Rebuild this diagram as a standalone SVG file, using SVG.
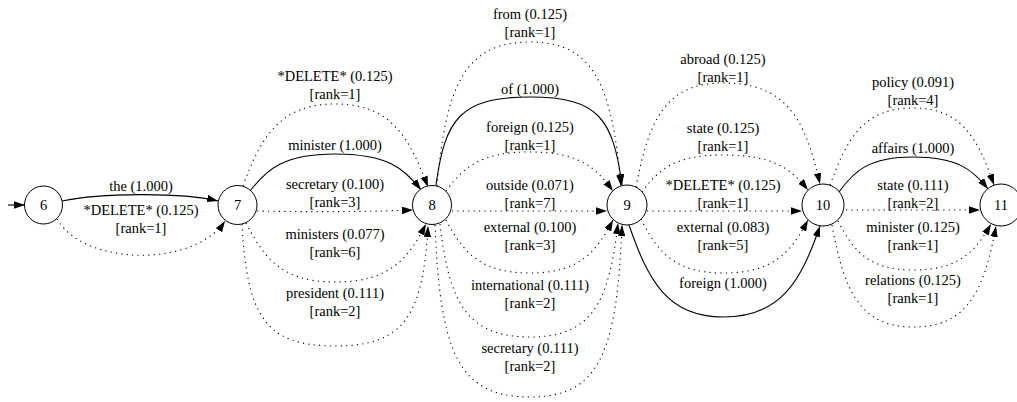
<svg xmlns="http://www.w3.org/2000/svg" width="1017" height="402" viewBox="0 0 1017 402">
<defs>
<marker id="ah" markerUnits="userSpaceOnUse" markerWidth="12" markerHeight="8" refX="11" refY="3.75" orient="auto">
<path d="M0,0 L11,3.75 L0,7.5 z" fill="#000"/>
</marker>
<style>
.n circle{fill:#fff;stroke:#000;stroke-width:1}
text{font-family:'Liberation Serif','Times New Roman',serif;font-size:14.5px;fill:#000;text-anchor:middle}
.s{fill:none;stroke:#000;stroke-width:1.1;marker-end:url(#ah)}
.d{fill:none;stroke:#000;stroke-width:1.1;stroke-dasharray:1.2 4.2;marker-end:url(#ah)}
</style>
</defs>
<rect width="1017" height="402" fill="#fff"/>
<g id="connectors">
<g id="e_init"><path class="s" d="M8,205 L25,205"/></g>
<g id="e6_7a"><path class="s" d="M62,201 C100,193 180,192 218,201"/><text x="141" y="191">the (1.000)</text></g>
<g id="e6_7b"><path class="d" d="M57,219 C85,267 195,267 225,221"/><text><tspan x="141" y="215">*DELETE* (0.125)</tspan><tspan x="141" y="233">[rank=1]</tspan></text></g>
<g id="e7_8a"><path class="d" d="M243,186 C261,137 280,104 335,104 C391,104 409,137 428,187"/><text><tspan x="335" y="81">*DELETE* (0.125)</tspan><tspan x="335" y="99">[rank=1]</tspan></text></g>
<g id="e7_8b"><path class="s" d="M250,191 C267,169 284,154 335,154 C387,154 404,168 421,190"/><text x="335" y="150">minister (1.000)</text></g>
<g id="e7_8c"><path class="d" d="M257,211 C310,212 360,212 413,210"/><text><tspan x="335" y="189">secretary (0.100)</tspan><tspan x="335" y="207">[rank=3]</tspan></text></g>
<g id="e7_8d"><path class="d" d="M246,223 C264,258 282,282 335,282 C390,282 408,259 426,224"/><text><tspan x="335" y="239">ministers (0.077)</tspan><tspan x="335" y="257">[rank=6]</tspan></text></g>
<g id="e7_8e"><path class="d" d="M242,224 C247,316 265,346 335,346 C404,346 423,316 428,226"/><text><tspan x="335" y="298">president (0.111)</tspan><tspan x="335" y="316">[rank=2]</tspan></text></g>
<g id="e8_9a"><path class="d" d="M437,186 C446,85 465,42 530,42 C594,42 612,85 621,186"/><text><tspan x="530" y="19">from (0.125)</tspan><tspan x="530" y="37">[rank=1]</tspan></text></g>
<g id="e8_9b"><path class="s" d="M436,185 C445,119 460,97 530,97 C599,97 613,119 622,185"/><text x="530" y="94">of (1.000)</text></g>
<g id="e8_9c"><path class="d" d="M446,191 C463,168 480,152 530,152 C580,152 596,168 613,191"/><text><tspan x="530" y="132">foreign (0.125)</tspan><tspan x="530" y="150">[rank=1]</tspan></text></g>
<g id="e8_9d"><path class="d" d="M452,211 L607,211"/><text><tspan x="530" y="190">outside (0.071)</tspan><tspan x="530" y="208">[rank=7]</tspan></text></g>
<g id="e8_9e"><path class="d" d="M446,220 C463,252 480,273 530,273 C580,273 596,252 613,220"/><text><tspan x="530" y="232">external (0.100)</tspan><tspan x="530" y="250">[rank=3]</tspan></text></g>
<g id="e8_9f"><path class="d" d="M440,224 C449,303 467,337 530,337 C592,337 609,303 618,223"/><text><tspan x="530" y="290">international (0.111)</tspan><tspan x="530" y="308">[rank=2]</tspan></text></g>
<g id="e8_9g"><path class="d" d="M435,225 C440,354 459,397 530,397 C599,397 617,354 622,225"/><text><tspan x="530" y="353">secretary (0.111)</tspan><tspan x="530" y="371">[rank=2]</tspan></text></g>
<g id="e9_10a"><path class="d" d="M636,187 C649,119 666,83 723,83 C786,83 805,118 820,184"/><text><tspan x="723" y="64">abroad (0.125)</tspan><tspan x="723" y="82">[rank=1]</tspan></text></g>
<g id="e9_10b"><path class="d" d="M642,192 C658,170 674,155 723,155 C774,155 791,169 808,190"/><text><tspan x="723" y="133">state (0.125)</tspan><tspan x="723" y="151">[rank=1]</tspan></text></g>
<g id="e9_10c"><path class="d" d="M647,211 L802,211"/><text><tspan x="723" y="190">*DELETE* (0.125)</tspan><tspan x="723" y="208">[rank=1]</tspan></text></g>
<g id="e9_10d"><path class="d" d="M641,219 C657,251 674,273 723,273 C774,273 791,252 808,220"/><text><tspan x="723" y="232">external (0.083)</tspan><tspan x="723" y="250">[rank=5]</tspan></text></g>
<g id="e9_10e"><path class="s" d="M629,225 C648,280 667,317 723,317 C781,317 801,281 820,226"/><text x="723" y="288">foreign (1.000)</text></g>
<g id="e10_11a"><path class="d" d="M830,185 C847,139 863,108 913,108 C962,108 978,139 994,185"/><text><tspan x="913" y="87">policy (0.091)</tspan><tspan x="913" y="105">[rank=4]</tspan></text></g>
<g id="e10_11b"><path class="s" d="M839,192 C854,171 869,157 913,157 C958,157 973,170 988,189"/><text x="913" y="153">affairs (1.000)</text></g>
<g id="e10_11c"><path class="d" d="M846,210 L980,210"/><text><tspan x="913" y="190">state (0.111)</tspan><tspan x="913" y="208">[rank=2]</tspan></text></g>
<g id="e10_11d"><path class="d" d="M838,221 C853,250 868,270 913,270 C959,270 975,252 991,224"/><text><tspan x="913" y="232">minister (0.125)</tspan><tspan x="913" y="250">[rank=1]</tspan></text></g>
<g id="e10_11e"><path class="d" d="M832,225 C844,291 860,327 913,327 C967,327 984,292 996,226"/><text><tspan x="913" y="285">relations (0.125)</tspan><tspan x="913" y="303">[rank=1]</tspan></text></g>
</g>
<g id="node6" class="n"><circle cx="43.5" cy="205" r="19"/><text x="43.5" y="210">6</text></g>
<g id="node7" class="n"><circle cx="237.5" cy="205" r="19.5"/><text x="237.5" y="210">7</text></g>
<g id="node8" class="n"><circle cx="432" cy="205" r="19.5"/><text x="432" y="210">8</text></g>
<g id="node9" class="n"><circle cx="627" cy="205" r="20"/><text x="627" y="210">9</text></g>
<g id="node10" class="n"><circle cx="823" cy="205" r="21"/><text x="823" y="210">10</text></g>
<g id="node11" class="n"><circle cx="1001" cy="205" r="21"/><text x="1001" y="210">11</text></g>
</svg>
